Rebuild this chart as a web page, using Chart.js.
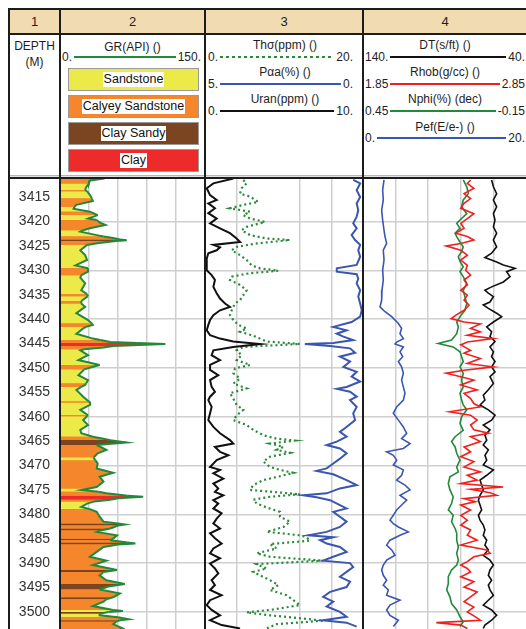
<!DOCTYPE html>
<html><head><meta charset="utf-8">
<script src="https://cdn.jsdelivr.net/npm/chart.js@4.4.1/dist/chart.umd.min.js"></script>
<style>
html,body{margin:0;padding:0;background:#fff}
body{width:526px;height:629px;overflow:hidden;position:relative;font-family:"Liberation Sans",Arial,sans-serif;color:#1e1e1e}
.p{position:absolute}
.k{position:absolute;background:#1c1c1c;z-index:5}
.num{position:absolute;top:10px;height:23px;line-height:23px;font-size:13px;text-align:center;z-index:2}
.ttl{position:absolute;font-size:12px;line-height:14px;text-align:center;white-space:nowrap}
.row{position:absolute;display:flex;align-items:center;font-size:12px;line-height:14px;height:14px;white-space:nowrap}
.row .l{flex:1;margin:0 2px;height:2px}
.lith{position:absolute;left:68px;width:129px;height:21px;border:1px solid #9a9a9a;display:flex;align-items:center;justify-content:center}
.lith span{background:#fff;font-size:12.5px;line-height:15px;padding:0 1px;color:#111}
canvas{position:absolute}
</style></head><body>
<div class="p" style="left:8px;top:8px;width:518px;height:25px;background:#f1dcb2"></div>
<div class="num" style="left:10px;width:49px">1</div>
<div class="num" style="left:61px;width:143px">2</div>
<div class="num" style="left:206px;width:156px">3</div>
<div class="num" style="left:364px;width:162px">4</div>

<div class="ttl" style="left:10px;width:49px;top:39px">DEPTH</div>
<div class="ttl" style="left:10px;width:49px;top:55px">(M)</div>

<div class="ttl" style="left:61px;width:143px;top:40px">GR(API) ()</div>
<div class="row" style="left:62px;width:139px;top:50px"><span>0.</span><div class="l" style="background:#23893a"></div><span>150.</span></div>
<div class="lith" style="top:68px;background:#ecea48"><span>Sandstone</span></div>
<div class="lith" style="top:95px;background:#f5862b"><span>Calyey Sandstone</span></div>
<div class="lith" style="top:122px;background:#7a4520"><span>Clay Sandy</span></div>
<div class="lith" style="top:149px;background:#ee2b2b"><span>Clay</span></div>

<div class="ttl" style="left:206px;width:158px;top:38px">Thσ(ppm) ()</div>
<div class="row" style="left:208px;width:145px;top:50px"><span>0.</span><div class="l" style="background:repeating-linear-gradient(90deg,#2a8a3a 0 3px,transparent 3px 6px)"></div><span>20.</span></div>
<div class="ttl" style="left:206px;width:158px;top:65px">Pαa(%) ()</div>
<div class="row" style="left:208px;width:145px;top:77px"><span>5.</span><div class="l" style="background:#3a56b0"></div><span>0.</span></div>
<div class="ttl" style="left:206px;width:158px;top:92px">Uran(ppm) ()</div>
<div class="row" style="left:208px;width:145px;top:104px"><span>0.</span><div class="l" style="background:#111"></div><span>10.</span></div>

<div class="ttl" style="left:364px;width:162px;top:38px">DT(s/ft) ()</div>
<div class="row" style="left:365px;width:160px;top:50px"><span>140.</span><div class="l" style="background:#111"></div><span>40.</span></div>
<div class="ttl" style="left:364px;width:162px;top:65px">Rhob(g/cc) ()</div>
<div class="row" style="left:365px;width:160px;top:77px"><span>1.85</span><div class="l" style="background:#ee2020"></div><span>2.85</span></div>
<div class="ttl" style="left:364px;width:162px;top:92px">Nphi(%) (dec)</div>
<div class="row" style="left:365px;width:160px;top:104px"><span>0.45</span><div class="l" style="background:#23893a"></div><span>-0.15</span></div>
<div class="ttl" style="left:364px;width:162px;top:120px">Pef(E/e-) ()</div>
<div class="row" style="left:365px;width:160px;top:131px"><span>0.</span><div class="l" style="background:#3a56b0"></div><span>20.</span></div>

<div class="p" style="left:10px;top:175px;width:516px;height:1px;background:#b5b5b5"></div>
<div class="p" style="left:10px;top:176px;width:516px;height:1px;background:#e2e2e2"></div>

<canvas id="c2" width="195" height="450" style="left:10px;top:179px"></canvas>
<canvas id="c3" width="158" height="450" style="left:205px;top:179px"></canvas>
<canvas id="c4" width="163" height="450" style="left:363px;top:179px"></canvas>

<div class="k" style="left:8px;top:8px;width:518px;height:2px"></div>
<div class="k" style="left:8px;top:33px;width:518px;height:2px"></div>
<div class="k" style="left:8px;top:177px;width:518px;height:2px"></div>
<div class="k" style="left:8px;top:8px;width:2px;height:621px"></div>
<div class="k" style="left:59px;top:8px;width:2px;height:621px"></div>
<div class="k" style="left:204px;top:8px;width:2px;height:621px"></div>
<div class="k" style="left:362px;top:8px;width:2px;height:621px"></div>

<script>
// ---- depth range and tick labels ----
const depthMin = 3411.3, depthMax = 3503.5;
const depthLabels = [3415,3420,3425,3430,3435,3440,3445,3450,3455,3460,3465,3470,3475,3480,3485,3490,3495,3500];
const gridDepths = [3420,3430,3440,3450,3460,3470,3480,3490,3500];
const grGrid = [30,60,90,120];
const thGrid = [4,12,16];
const pefGrid = [4,8,12,16];

// ---- lithology ----
const lithNames = {S:'Sandstone', C:'Calyey Sandstone', B:'Clay Sandy', R:'Clay'};
const lithColors = {S:'#ecea48', C:'#f5862b', B:'#7a4520', R:'#ee2b2b'};

// ---- GR log: depth (m), GR (API), lithology of interval below ----
const grDepth = [3411.2,3411.6,3412.2,3413.0,3413.6,3413.8,3414.6,3415.3,3415.8,3416.6,
3417.0,3417.4,3418.0,3418.7,3419.4,3419.7,3420.2,3420.7,3421.4,3421.8,
3422.1,3422.8,3423.1,3423.4,3423.7,3423.85,3424.0,3424.4,3424.8,3425.9,
3426.9,3427.9,3429.0,3429.6,3430.3,3431.0,3431.5,3432.7,3434.1,3434.9,
3435.3,3436.3,3436.8,3437.5,3438.8,3440.2,3440.9,3441.2,3441.6,3441.9,
3443.0,3444.0,3444.3,3444.7,3444.9,3445.1,3445.5,3445.8,3446.2,3446.4,
3447.4,3448.4,3448.9,3449.4,3450.3,3451.5,3452.5,3453.2,3453.5,3453.9,
3454.5,3455.9,3456.6,3456.9,3457.1,3457.6,3458.6,3459.7,3459.9,3460.7,
3461.7,3462.7,3463.4,3464.1,3464.5,3464.8,3465.3,3465.8,3466.8,3467.5,
3468.3,3468.5,3469.0,3469.6,3470.6,3471.5,3472.3,3473.3,3474.4,3474.7,
3475.0,3475.4,3475.7,3476.2,3476.4,3476.7,3477.0,3477.4,3477.8,3478.5,
3478.9,3479.5,3480.5,3481.5,3481.9,3482.1,3482.3,3482.9,3483.3,3483.6,
3484.3,3485.0,3485.3,3485.8,3486.0,3486.2,3486.7,3487.7,3488.7,3489.5,
3490.4,3491.4,3491.8,3492.5,3493.5,3494.3,3494.8,3495.4,3496.2,3497.0,
3497.4,3497.9,3498.8,3499.6,3499.8,3500.0,3500.4,3500.7,3501.1,3501.5,
3501.7,3502.0,3502.5,3503.4,3503.8];
const grValue = [46,31,30,27,26,28,31,33,34,17,
15,14,31,39,29,38,41,47,31,24,
21,38,45,55,62,69,58,40,28,21,
26,28,16,29,29,22,21,26,22,28,
29,22,22,26,17,29,33,34,27,24,
17,34,42,52,80,109,55,45,25,21,
29,19,30,41,25,19,29,27,26,22,
17,24,28,30,31,31,21,29,28,24,
29,21,22,34,45,52,69,38,48,39,
35,35,37,39,38,55,41,45,38,30,
22,40,48,70,86,60,52,35,28,22,
30,38,41,45,60,67,60,52,42,38,
59,55,52,70,78,60,45,38,31,48,
34,59,45,41,48,67,50,41,62,55,
48,45,34,55,65,50,41,41,60,71,
62,58,55,65,60];
const grLith = ("CCSSCSSCCC"+"SSCSSCCCCS"+"SSCCBBCCSS"+"SSSCCSSSSC"+"SCSSSSCCSS"+
"SSCCRRCCSS"+"SSSCSSSCCS"+"SSSCSSSCSS"+"SSSCCBBCCC"+"SSCCCCCCCS"+
"SCCRRRCSSS"+"CCCCBBCBCC"+"CBCBBCCCCC"+"CBCCCBBCCB"+"CCCSSBSSCC"+"BCCCC").split('');

// ---- Track 3 logs: [depth, value] ----
const thLog = [[3411.5,4.85],[3412.2,5.27],[3413.2,4.64],[3414.3,4.43],[3414.9,5.70],[3416.0,6.75],[3416.6,4.85],[3417.3,3.16],[3418.0,5.70],[3418.7,4.85],[3419.4,5.70],[3420.1,7.59],[3421.1,5.27],[3421.8,4.64],[3422.8,5.70],[3423.5,7.81],[3423.8,10.76],[3424.5,6.54],[3425.2,4.01],[3425.9,3.38],[3426.9,4.43],[3427.9,5.27],[3429.0,5.91],[3429.6,6.96],[3430.1,9.28],[3430.6,5.70],[3431.3,3.38],[3432.0,3.16],[3433.0,4.43],[3434.1,5.27],[3435.1,4.85],[3436.1,4.43],[3436.8,3.80],[3438.2,3.38],[3439.2,3.16],[3440.2,3.59],[3441.2,4.22],[3441.9,5.27],[3442.6,4.43],[3443.3,5.91],[3444.0,6.96],[3444.6,7.81],[3445.1,12.03],[3445.7,4.85],[3446.4,4.01],[3447.4,4.64],[3448.4,4.01],[3449.4,5.70],[3450.1,3.80],[3451.1,3.59],[3452.2,4.43],[3453.2,3.59],[3454.2,5.27],[3455.2,3.16],[3456.3,3.59],
[3457.6,4.01],[3458.6,4.85],[3459.7,4.01],[3460.7,3.59],[3461.7,5.27],[3462.7,6.12],[3463.8,7.38],[3464.5,9.07],[3464.9,11.39],[3465.5,8.23],[3466.2,9.92],[3466.8,9.07],[3467.4,10.76],[3468.2,8.23],[3469.2,7.38],[3470.3,8.23],[3470.9,9.49],[3471.5,11.18],[3472.2,9.49],[3473.0,7.38],[3474.0,6.12],[3475.0,5.70],[3475.9,12.03],[3476.4,8.23],[3477.0,6.12],[3477.8,6.54],[3478.6,7.81],[3479.5,9.49],[3480.5,9.49],[3481.5,10.76],[3482.6,9.92],[3483.6,7.81],[3484.3,12.03],[3484.7,12.87],[3485.4,13.29],[3486.1,8.23],[3487.0,9.07],[3488.0,6.54],[3488.7,8.23],[3489.5,14.98],[3490.2,6.54],[3491.1,7.81],[3491.8,6.12],[3492.5,6.96],[3493.5,8.23],[3494.5,9.28],[3495.5,8.23],[3496.6,10.34],[3497.6,11.18],[3498.6,12.03],[3499.5,8.65],[3500.1,5.27],[3500.7,8.23],[3501.3,12.03],[3501.8,14.98],[3502.5,9.07],[3503.4,7.81]];

const paLog = [[3411.5,0.31],[3412.2,0.09],[3413.6,0.20],[3415.0,0.09],[3416.3,0.20],[3417.7,0.15],[3419.0,0.20],[3420.4,0.31],[3421.4,0.20],[3422.8,0.36],[3423.8,0.25],[3424.8,0.09],[3425.9,0.15],[3427.2,0.09],[3428.9,0.20],[3429.6,0.83],[3430.3,0.83],[3430.8,0.20],[3431.7,0.15],[3432.7,0.20],[3434.1,0.09],[3435.4,0.15],[3436.8,0.09],[3438.2,0.04],[3439.5,0.09],[3440.6,0.36],[3441.6,0.94],[3442.3,0.52],[3443.0,0.83],[3443.6,0.62],[3444.3,0.31],[3444.9,0.94],[3445.1,1.84],[3445.5,1.04],[3446.0,0.41],[3446.9,0.25],[3447.7,0.73],[3448.7,0.41],[3449.8,0.62],[3450.8,0.20],[3451.8,0.36],[3452.8,0.09],[3453.9,0.52],[3454.3,0.83],[3454.9,0.41],[3455.9,0.20],
[3456.6,0.41],[3458.0,0.20],[3459.3,0.31],[3460.7,0.25],[3462.1,0.52],[3463.1,0.73],[3464.1,0.52],[3465.1,0.83],[3465.8,1.15],[3466.5,0.73],[3467.5,0.52],[3468.6,0.73],[3469.6,0.94],[3470.6,1.15],[3471.1,1.47],[3471.8,0.94],[3473.0,0.52],[3474.0,0.20],[3474.7,0.73],[3475.7,1.15],[3476.1,1.89],[3476.5,1.47],[3477.1,1.04],[3478.1,0.73],[3478.8,0.52],[3479.5,0.94],[3480.5,0.73],[3481.5,0.52],[3482.6,0.73],[3483.6,1.15],[3484.3,1.73],[3484.7,0.94],[3485.3,1.36],[3486.0,1.15],[3486.7,0.73],[3487.7,0.52],[3488.7,0.94],[3489.5,1.26],[3490.0,0.41],[3490.8,0.31],[3491.8,0.52],[3492.8,0.73],[3493.8,0.41],[3494.9,0.52],[3495.9,1.04],[3496.9,1.26],[3497.9,0.94],[3498.9,1.15],[3500.0,0.73],[3501.0,0.52],[3501.7,1.26],[3502.2,0.52],[3503.0,0.20]];

const uranLog = [[3411.2,1.79],[3412.2,0.53],[3413.2,0.11],[3414.6,0.32],[3415.6,0.74],[3416.3,0.21],[3417.3,0.63],[3418.3,0.21],[3419.4,0.74],[3420.4,0.32],[3421.4,0.95],[3422.4,1.58],[3423.5,2.0],[3424.2,2.22],[3424.8,0.53],[3425.3,0.95],[3425.9,0.74],[3426.5,0.21],[3427.6,0.11],[3430.0,0.11],[3431.0,0.42],[3432.0,0.63],[3433.4,0.53],[3434.7,0.74],[3435.8,0.95],[3436.8,1.27],[3437.5,1.58],[3438.2,0.95],[3439.2,0.53],[3440.2,0.32],[3441.2,0.21],[3442.3,0.11],[3443.3,0.32],[3444.0,0.95],[3444.6,1.79],[3445.1,3.48],[3445.7,1.79],[3446.4,0.53],[3447.4,0.42],[3448.4,0.95],[3449.4,0.32],[3450.4,0.32],[3451.5,0.84],[3452.5,0.32],[3453.9,0.42],[3454.9,0.63],[3455.9,0.32],
[3456.6,0.21],[3458.0,0.42],[3459.3,0.32],[3460.7,0.21],[3462.1,0.53],[3463.4,0.95],[3464.8,1.58],[3465.5,1.79],[3466.2,0.63],[3467.2,0.95],[3467.9,1.48],[3468.9,0.74],[3470.3,0.32],[3470.9,0.95],[3471.6,0.53],[3472.7,1.16],[3473.7,0.53],[3474.7,0.84],[3475.4,0.63],[3476.1,1.16],[3477.1,0.53],[3477.8,0.84],[3478.8,0.53],[3479.8,1.05],[3480.9,0.74],[3481.9,0.53],[3482.9,0.95],[3483.9,0.32],[3484.9,0.63],[3486.0,1.05],[3487.0,0.53],[3488.0,0.32],[3489.0,0.95],[3490.1,0.32],[3491.1,0.63],[3492.1,0.84],[3493.5,0.42],[3494.5,0.63],[3495.5,0.32],[3496.6,1.05],[3497.6,0.32],[3498.6,0.11],[3499.6,0.42],[3500.7,0.95],[3501.7,0.32],[3502.7,1.05],[3503.4,2.22]];

// ---- Track 4 logs: [depth, value] ----
const dtLog = [[3411.5,61.1],[3412.9,60.0],[3414.3,58.0],[3415.6,60.0],[3417.0,58.0],[3418.4,60.0],[3419.7,59.0],[3421.1,60.0],[3422.4,58.0],[3423.8,60.0],[3425.2,58.0],[3426.5,61.1],[3427.4,65.2],[3428.3,58.0],[3428.9,53.9],[3429.6,46.7],[3430.3,51.9],[3431.3,49.8],[3432.4,53.9],[3433.4,61.1],[3434.1,65.2],[3434.7,63.1],[3435.4,60.0],[3436.5,62.1],[3437.1,66.2],[3437.8,63.1],[3438.8,58.0],[3439.5,54.9],[3440.6,60.0],[3441.6,64.1],[3442.6,61.1],[3443.6,62.1],[3444.6,59.0],[3445.7,62.1],[3446.7,60.0],[3447.7,61.1],[3448.7,59.0],[3449.8,61.1],[3450.8,59.0],[3451.8,62.1],[3453.2,60.0],[3454.5,63.1],[3455.6,66.2],
[3456.6,65.2],[3457.6,68.2],[3458.6,63.1],[3459.7,59.0],[3460.7,61.1],[3461.7,66.2],[3462.7,62.1],[3463.8,65.2],[3464.8,64.1],[3465.8,66.2],[3466.8,63.1],[3467.9,65.2],[3468.9,64.1],[3469.9,66.2],[3470.9,60.0],[3472.0,64.1],[3473.0,68.2],[3474.0,67.2],[3475.0,66.2],[3476.1,68.2],[3477.1,69.2],[3478.1,68.2],[3479.1,67.2],[3480.2,69.2],[3481.2,68.2],[3482.2,66.2],[3483.2,65.2],[3484.3,66.2],[3485.3,64.1],[3486.3,65.2],[3487.3,63.1],[3488.4,66.2],[3489.4,62.1],[3490.4,60.0],[3491.4,62.1],[3492.5,63.1],[3493.5,61.1],[3494.5,63.1],[3495.5,62.1],[3496.6,60.0],[3497.6,63.1],[3498.6,66.2],[3499.6,61.1],[3500.7,58.0],[3501.7,61.1],[3502.7,65.2],[3503.4,66.2]];

const rhobLog = [[3411.5,2.51],[3412.2,2.49],[3413.2,2.53],[3414.3,2.47],[3415.3,2.51],[3416.3,2.47],[3417.3,2.45],[3418.4,2.53],[3419.4,2.49],[3420.4,2.45],[3421.4,2.47],[3422.4,2.42],[3423.1,2.49],[3423.8,2.53],[3424.5,2.45],[3425.0,2.36],[3425.9,2.45],[3426.9,2.49],[3427.9,2.45],[3429.0,2.49],[3430.0,2.48],[3431.0,2.51],[3432.0,2.47],[3433.0,2.49],[3434.1,2.45],[3435.1,2.49],[3436.1,2.47],[3437.1,2.50],[3438.2,2.47],[3439.2,2.42],[3439.9,2.39],[3440.6,2.47],[3441.0,2.57],[3441.9,2.51],[3442.6,2.57],[3443.3,2.49],[3444.0,2.65],[3444.7,2.49],[3445.3,2.45],[3446.4,2.51],[3447.0,2.47],[3448.1,2.57],[3449.1,2.49],[3449.8,2.65],[3450.5,2.47],[3451.1,2.36],[3451.8,2.45],[3452.5,2.53],[3453.5,2.45],[3454.5,2.55],[3455.2,2.47],[3456.3,2.51],
[3457.3,2.53],[3458.0,2.57],[3459.0,2.38],[3459.7,2.51],[3460.7,2.55],[3461.7,2.51],[3462.7,2.53],[3463.4,2.62],[3464.1,2.51],[3465.1,2.57],[3466.2,2.47],[3467.2,2.51],[3468.2,2.45],[3469.2,2.53],[3470.3,2.47],[3471.3,2.57],[3472.0,2.49],[3473.0,2.55],[3473.7,2.45],[3474.4,2.71],[3474.9,2.51],[3475.6,2.63],[3476.1,2.67],[3476.8,2.47],[3477.4,2.54],[3478.1,2.45],[3479.1,2.51],[3480.2,2.45],[3481.2,2.49],[3482.2,2.45],[3483.2,2.51],[3484.3,2.49],[3485.3,2.55],[3486.3,2.45],[3487.3,2.61],[3488.0,2.63],[3488.7,2.53],[3489.7,2.49],[3490.4,2.45],[3491.1,2.49],[3491.8,2.51],[3492.8,2.45],[3493.8,2.53],[3494.9,2.47],[3495.9,2.55],[3496.9,2.51],[3497.9,2.47],[3499.0,2.53],[3500.0,2.49],[3501.0,2.54],[3501.7,2.57],[3502.2,2.30],[3502.7,2.45],[3503.4,2.49]];

const nphiLog = [[3411.5,0.081],[3412.9,0.068],[3414.3,0.062],[3415.6,0.081],[3417.0,0.087],[3418.4,0.068],[3419.7,0.093],[3420.4,0.105],[3421.4,0.093],[3422.4,0.111],[3423.1,0.105],[3424.2,0.093],[3425.2,0.081],[3426.2,0.087],[3427.2,0.099],[3428.2,0.093],[3429.3,0.081],[3430.3,0.093],[3431.3,0.081],[3432.7,0.068],[3434.1,0.081],[3435.4,0.075],[3436.8,0.068],[3438.2,0.075],[3439.5,0.093],[3440.6,0.105],[3441.6,0.099],[3443.0,0.105],[3444.3,0.124],[3445.0,0.173],[3445.7,0.118],[3446.7,0.093],[3447.7,0.087],[3448.7,0.081],[3449.8,0.093],[3451.1,0.081],[3452.5,0.087],[3453.9,0.081],[3455.2,0.093],
[3456.6,0.087],[3457.6,0.081],[3458.6,0.068],[3460.0,0.087],[3461.4,0.093],[3462.8,0.081],[3464.1,0.111],[3465.1,0.124],[3466.2,0.111],[3467.5,0.105],[3468.9,0.093],[3470.3,0.105],[3471.3,0.099],[3472.3,0.130],[3473.7,0.136],[3475.0,0.130],[3476.4,0.118],[3477.8,0.124],[3479.1,0.136],[3480.2,0.118],[3481.5,0.124],[3482.9,0.111],[3483.9,0.105],[3485.3,0.105],[3486.7,0.099],[3488.0,0.105],[3489.4,0.099],[3490.4,0.105],[3491.4,0.124],[3492.8,0.136],[3494.2,0.136],[3495.5,0.142],[3496.9,0.130],[3498.3,0.124],[3499.6,0.105],[3501.0,0.093],[3502.0,0.081],[3503.0,0.093]];

const pefLog = [[3411.5,2.58],[3413.6,2.41],[3415.6,2.49],[3417.7,2.29],[3419.7,2.41],[3421.8,2.58],[3423.1,2.70],[3424.5,2.90],[3425.9,2.49],[3427.9,2.58],[3430.0,2.41],[3432.0,2.49],[3434.1,2.33],[3436.1,2.29],[3437.5,2.09],[3438.5,2.70],[3439.5,3.52],[3440.9,4.34],[3441.9,4.74],[3443.0,4.54],[3444.0,4.95],[3444.7,4.13],[3445.1,3.93],[3445.7,4.95],[3446.7,4.54],[3447.7,4.87],[3448.7,4.34],[3449.8,4.74],[3451.1,4.95],[3452.5,4.74],[3453.9,4.95],[3455.2,5.15],
[3456.6,4.95],[3458.0,4.13],[3459.3,3.72],[3460.7,4.34],[3462.1,4.95],[3463.4,5.36],[3464.5,4.74],[3465.5,5.77],[3466.5,4.95],[3467.2,2.90],[3467.9,3.72],[3468.9,4.13],[3469.9,3.72],[3470.9,4.95],[3472.0,4.74],[3473.0,4.13],[3474.0,5.15],[3475.0,5.77],[3476.1,4.54],[3477.1,5.36],[3478.1,4.74],[3479.1,4.13],[3480.2,3.72],[3481.2,3.31],[3481.9,3.72],[3482.6,4.34],[3483.6,5.56],[3484.3,4.54],[3485.3,3.31],[3486.3,2.90],[3487.3,3.52],[3488.4,3.93],[3489.4,2.90],[3490.4,2.49],[3491.4,2.29],[3492.5,2.49],[3493.5,2.90],[3494.5,2.49],[3495.5,3.11],[3496.6,2.90],[3497.6,4.54],[3498.6,3.31],[3499.6,2.90],[3500.7,3.31],[3501.7,4.34],[3503.0,3.72]];

// ---------------------------------------------------------------
const GRID = '#cfcfcf';
const pts = log => log.map(r => ({x: r[1], y: r[0]}));
const base = {
  responsive:false, animation:false, events:[], devicePixelRatio:1,
  indexAxis:'y', layout:{padding:0},
  plugins:{legend:{display:false}, tooltip:{enabled:false}},
  elements:{point:{radius:0}, line:{tension:0}}
};
function depthAxis(){
  return {
    type:'linear', position:'left', min:depthMin, max:depthMax, reverse:true,
    afterBuildTicks: s => { s.ticks = gridDepths.map(v => ({value:v})); },
    ticks:{display:false},
    grid:{color:GRID, lineWidth:1.5, drawTicks:false},
    border:{display:false},
    afterFit: s => { s.width = 0; s.paddingTop = 0; s.paddingBottom = 0; }
  };
}
function gridAxis(min, max, ticks, reverse){
  return {
    type:'linear', position:'bottom', min:min, max:max, reverse:!!reverse,
    afterBuildTicks: s => { s.ticks = ticks.map(v => ({value:v})); },
    ticks:{display:false},
    grid:{color:GRID, lineWidth:1.5, drawTicks:false},
    border:{display:false},
    afterFit: s => { s.height = 0; s.paddingLeft = 0; s.paddingRight = 0; }
  };
}
function hiddenAxis(min, max, reverse){
  return {type:'linear', display:false, min:min, max:max, reverse:!!reverse};
}

// Track 1 + 2 : depth labels, GR with lithology fill
const yA = depthAxis();
yA.afterBuildTicks = s => { s.ticks = depthLabels.map(v => ({value:v})); };
yA.ticks = {display:true, autoSkip:false, padding:10, color:'#333',
  font:{family:'"Liberation Sans", Arial, sans-serif', size:14},
  callback: v => String(v)};
yA.grid = {drawTicks:false, lineWidth:1.5,
  color: c => (c.tick && c.tick.value % 10 === 0) ? GRID : 'rgba(0,0,0,0)'};
yA.afterFit = s => { s.width = 50; s.paddingTop = 0; s.paddingBottom = 0; };

const grPoints = grDepth.map((d, i) => ({x: grValue[i], y: d}));
new Chart(document.getElementById('c2'), {
  type:'line',
  data:{datasets:[
    { // GR curve with lithology-coloured fill
      data: grPoints, xAxisID:'xGR', yAxisID:'y',
      borderColor:'#23893a', borderWidth:2, pointRadius:0,
      fill:'origin', backgroundColor: lithColors.S,
      segment:{ backgroundColor: c => lithColors[grLith[c.p0DataIndex]] }
    },
    { // solid underlay so lithology boundaries have no seams
      data: grPoints, xAxisID:'xGR', yAxisID:'y',
      borderWidth:0, pointRadius:0, fill:'origin', backgroundColor: lithColors.C
    }
  ]},
  options: Object.assign({}, base, {scales:{ y: yA, xGR: gridAxis(0, 150, grGrid) }})
});

// Track 3 : Th, Pa, Uran
new Chart(document.getElementById('c3'), {
  type:'line',
  data:{datasets:[
    {data: pts(uranLog), xAxisID:'xU', yAxisID:'y', borderColor:'#111', borderWidth:2},
    {data: pts(paLog), xAxisID:'xPa', yAxisID:'y', borderColor:'#3a56b0', borderWidth:2},
    {data: pts(thLog), xAxisID:'xTh', yAxisID:'y', borderColor:'#2a8a3a', borderWidth:2.2, borderDash:[2,3]}
  ]},
  options: Object.assign({}, base, {scales:{
    y: depthAxis(), xTh: gridAxis(0, 20, thGrid),
    xPa: hiddenAxis(0, 5, true), xU: hiddenAxis(0, 10)
  }})
});

// Track 4 : DT, Rhob, Nphi, Pef
new Chart(document.getElementById('c4'), {
  type:'line',
  data:{datasets:[
    {data: pts(rhobLog), xAxisID:'xRhob', yAxisID:'y', borderColor:'#ee2020', borderWidth:1.6},
    {data: pts(nphiLog), xAxisID:'xNphi', yAxisID:'y', borderColor:'#23893a', borderWidth:1.6},
    {data: pts(dtLog), xAxisID:'xDT', yAxisID:'y', borderColor:'#111', borderWidth:1.6},
    {data: pts(pefLog), xAxisID:'xPef', yAxisID:'y', borderColor:'#3a56b0', borderWidth:1.6}
  ]},
  options: Object.assign({}, base, {scales:{
    y: depthAxis(), xPef: gridAxis(0, 20, pefGrid),
    xDT: hiddenAxis(40, 140, true), xRhob: hiddenAxis(1.85, 2.85),
    xNphi: hiddenAxis(-0.15, 0.45, true)
  }})
});
</script>
</body></html>
